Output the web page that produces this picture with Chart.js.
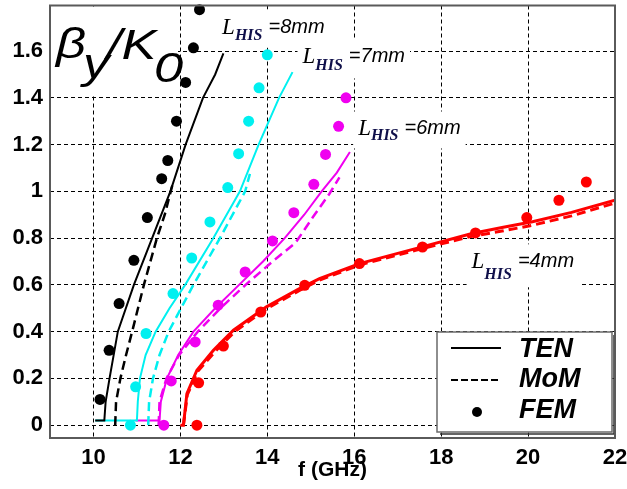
<!DOCTYPE html>
<html>
<head>
<meta charset="utf-8">
<script src="https://cdn.jsdelivr.net/npm/chart.js@4"></script>
<style>
  html, body { margin: 0; padding: 0; background: #fff; }
  canvas { display: block; }
</style>
</head>
<body>
<canvas id="dispersionChart" width="627" height="489"></canvas>
<script>
/**
 * Dispersion chart - beta_y / k0 against frequency for four L_HIS values
 */

// Axis ticks
const xTicks = [10, 12, 14, 16, 18, 20, 22];
const yTicks = [0, 0.2, 0.4, 0.6, 0.8, 1, 1.2, 1.4, 1.6];

// L_HIS = 8mm (black)
const ten8X = [10.04, 10.25, 10.28, 10.37, 10.56, 10.93, 11.35, 11.77, 12.12, 12.52, 12.8, 12.99];
const ten8Y = [0.02, 0.02, 0.1, 0.2, 0.4, 0.6, 0.8, 1.0, 1.2, 1.4, 1.5, 1.59];
const mom8X = [10.5, 10.52, 10.62, 10.75, 10.89, 11.16, 11.46, 11.64, 11.82];
const mom8Y = [0.0, 0.1, 0.2, 0.3, 0.4, 0.6, 0.8, 0.9, 1.03];
const fem8X = [10.15, 10.36, 10.59, 10.93, 11.24, 11.57, 11.71, 11.91, 12.12, 12.3, 12.44];
const fem8Y = [0.11, 0.32, 0.52, 0.705, 0.888, 1.054, 1.132, 1.3, 1.466, 1.614, 1.777];

// L_HIS = 7mm (cyan)
const ten7X = [10.04, 11.0, 11.02, 11.07, 11.2, 11.43, 11.75, 12.11, 12.76, 13.37, 13.8, 14.27, 14.58];
const ten7Y = [0.02, 0.02, 0.1, 0.2, 0.3, 0.4, 0.5, 0.6, 0.8, 1.0, 1.2, 1.4, 1.51];
const mom7X = [11.26, 11.28, 11.37, 11.52, 11.73, 12.3, 12.91, 13.49, 13.6];
const mom7Y = [0.0, 0.1, 0.2, 0.3, 0.4, 0.6, 0.8, 1.0, 1.075];
const fem7X = [10.85, 10.97, 11.21, 11.83, 12.26, 12.68, 13.09, 13.34, 13.57, 13.81, 14.0];
const fem7Y = [0.0, 0.164, 0.392, 0.563, 0.715, 0.869, 1.016, 1.161, 1.3, 1.443, 1.584];

// L_HIS = 6mm (magenta)
const ten6X = [10.97, 11.52, 11.55, 11.69, 11.95, 12.3, 12.8, 13.35, 13.9, 14.4, 14.85, 15.25, 15.6, 15.9];
const ten6Y = [0.02, 0.02, 0.1, 0.2, 0.3, 0.4, 0.5, 0.6, 0.7, 0.8, 0.9, 1.0, 1.08, 1.168];
const mom6X = [11.5, 11.52, 11.68, 11.97, 12.4, 12.92, 13.5, 14.12, 14.65, 15.05, 15.43, 15.66];
const mom6Y = [0.0, 0.1, 0.2, 0.3, 0.4, 0.5, 0.6, 0.7, 0.78, 0.89, 0.99, 1.06];
const fem6X = [11.62, 11.79, 12.34, 12.87, 13.49, 14.12, 14.61, 15.07, 15.34, 15.64, 15.81];
const fem6Y = [0.0, 0.189, 0.356, 0.513, 0.655, 0.788, 0.909, 1.03, 1.158, 1.278, 1.4];

// L_HIS = 4mm (red)
const ten4X = [12.0, 12.07, 12.15, 12.38, 12.76, 13.22, 13.98, 14.74, 15.2, 16.12, 17.41, 18.71, 19.4, 20.1, 21.0, 22.0];
const ten4Y = [0.0, 0.0, 0.135, 0.235, 0.32, 0.406, 0.506, 0.584, 0.627, 0.691, 0.755, 0.82, 0.845, 0.87, 0.91, 0.962];
const mom4X = [12.07, 12.16, 12.4, 12.8, 13.25, 14.0, 14.76, 15.2, 16.12, 17.41, 18.71, 19.4, 20.1, 21.0, 22.0];
const mom4Y = [0.0, 0.13, 0.23, 0.315, 0.4, 0.5, 0.578, 0.62, 0.685, 0.748, 0.808, 0.83, 0.855, 0.895, 0.95];
const fem4X = [12.38, 12.42, 12.99, 13.85, 14.86, 16.12, 17.57, 18.79, 19.97, 20.71, 21.34];
const fem4Y = [0.0, 0.181, 0.338, 0.484, 0.598, 0.691, 0.762, 0.822, 0.888, 0.962, 1.04];

// Curve labels (anchored at the "L" baseline, in data units)
const curveLabels = [
  { rest: '=8mm', x: 12.96, y: 1.675, drop: 6 },
  { rest: '=7mm', x: 14.81, y: 1.547, drop: 7 },
  { rest: '=6mm', x: 16.09, y: 1.239, drop: 5 },
  { rest: '=4mm', x: 18.7, y: 0.671, drop: 11 },
];

const COLORS = { black: '#000000', cyan: '#00f0f0', magenta: '#f000f0', red: '#ff0000' };

/**
 * Zip two value arrays into chart points
 */
function toPoints(xs, ys) {
  return xs.map((x, i) => ({ x: x, y: ys[i] }));
}

/**
 * Line dataset (TEN solid, MoM dashed)
 */
function curve(label, xs, ys, color, dashed, width) {
  return {
    label: label,
    data: toPoints(xs, ys),
    showLine: true,
    borderColor: color,
    borderWidth: width,
    borderDash: dashed ? [9, 5] : [],
    pointRadius: 0,
    fill: false,
    tension: 0,
  };
}

/**
 * Point dataset (FEM)
 */
function dots(label, xs, ys, color) {
  return {
    label: label,
    data: toPoints(xs, ys),
    showLine: false,
    backgroundColor: color,
    borderWidth: 0,
    pointRadius: 5.5,
    clip: false,
  };
}

// White boxes + text for the curve labels and the y quantity
const annotationPlugin = {
  id: 'annotations',
  beforeDatasetsDraw(chart) {
    const { ctx, chartArea, scales } = chart;
    ctx.save();

    // big quantity label in the top left corner (stretched like the original)
    ctx.fillStyle = '#fff';
    ctx.fillRect(chartArea.left + 1, chartArea.top + 1, 127, 88);
    ctx.fillStyle = '#000';
    ctx.textBaseline = 'alphabetic';
    ctx.font = 'italic 42px "Liberation Sans"';
    const x0 = chartArea.left;
    const y0 = chartArea.top;
    const part = (txt, dx, dy) => {
      ctx.save();
      ctx.translate(x0 + dx, y0 + dy);
      ctx.scale(1.25, 1);
      ctx.fillText(txt, 0, 0);
      ctx.restore();
    };
    part('\u03B2', 6, 52);
    part('y', 33, 72);
    part('/K', 57, 53);
    part('0', 104, 76);

    curveLabels.forEach((lab) => {
      const px = scales.x.getPixelForValue(lab.x);
      const py = scales.y.getPixelForValue(lab.y);
      ctx.font = 'italic 23px "Liberation Serif"';
      const wL = ctx.measureText('L').width;
      ctx.font = 'bold italic 16px "Liberation Serif"';
      const wH = ctx.measureText('HIS').width;
      ctx.font = 'italic 20px "Liberation Sans"';
      const wR = ctx.measureText(lab.rest).width;
      const total = wL + wH + 6 + wR;

      ctx.fillStyle = '#fff';
      ctx.fillRect(px - 5, py - 24, total + 10, 32 + lab.drop);

      ctx.fillStyle = '#000';
      ctx.font = 'italic 23px "Liberation Serif"';
      ctx.fillText('L', px, py);
      ctx.fillStyle = '#10104a';
      ctx.font = 'bold italic 16px "Liberation Serif"';
      ctx.fillText('HIS', px + wL, py + lab.drop);
      ctx.fillStyle = '#000';
      ctx.font = 'italic 20px "Liberation Sans"';
      ctx.fillText(lab.rest, px + wL + wH + 6, py - 1);
    });
    ctx.restore();
  },
  afterDatasetsDraw(chart) {
    const { ctx, chartArea } = chart;
    const w = 175;
    const h = 100;
    const lx = chartArea.right - 3 - w;
    const ly = chartArea.bottom - 6 - h;
    ctx.save();
    ctx.fillStyle = '#fff';
    ctx.fillRect(lx, ly, w, h);
    ctx.strokeStyle = '#6a6a6a';
    ctx.lineWidth = 1.5;
    ctx.strokeRect(lx, ly, w, h);
    ctx.strokeStyle = '#333';
    ctx.beginPath();
    ctx.moveTo(lx + w + 2, ly + 3);
    ctx.lineTo(lx + w + 2, ly + h + 2);
    ctx.lineTo(lx + 3, ly + h + 2);
    ctx.stroke();

    // samples
    ctx.strokeStyle = '#000';
    ctx.lineWidth = 2;
    ctx.beginPath();
    ctx.moveTo(lx + 14, ly + 16);
    ctx.lineTo(lx + 64, ly + 16);
    ctx.stroke();
    ctx.setLineDash([7, 3]);
    ctx.beginPath();
    ctx.moveTo(lx + 14, ly + 48);
    ctx.lineTo(lx + 64, ly + 48);
    ctx.stroke();
    ctx.setLineDash([]);
    ctx.fillStyle = '#000';
    ctx.beginPath();
    ctx.arc(lx + 40, ly + 80, 5, 0, Math.PI * 2);
    ctx.fill();

    ctx.font = 'bold italic 27px "Liberation Sans"';
    ctx.textBaseline = 'middle';
    ctx.fillText('TEN', lx + 82, ly + 18);
    ctx.fillText('MoM', lx + 82, ly + 48);
    ctx.fillText('FEM', lx + 82, ly + 79);
    ctx.restore();
  },
  afterDraw(chart) {
    const { ctx, chartArea } = chart;
    ctx.save();
    ctx.strokeStyle = '#5a5a5a';
    ctx.lineWidth = 2;
    ctx.strokeRect(chartArea.left, chartArea.top, chartArea.right - chartArea.left, chartArea.bottom - chartArea.top);
    ctx.restore();
  },
};

/**
 * Build the chart
 */
function initChart() {
  const ctx = document.getElementById('dispersionChart').getContext('2d');
  const tickFont = { family: '"Liberation Sans"', size: 22, weight: 'bold' };

  new Chart(ctx, {
    type: 'scatter',
    data: {
      datasets: [
        curve('TEN 8mm', ten8X, ten8Y, COLORS.black, false, 2),
        curve('MoM 8mm', mom8X, mom8Y, COLORS.black, true, 2.5),
        dots('FEM 8mm', fem8X, fem8Y, COLORS.black),
        curve('TEN 7mm', ten7X, ten7Y, COLORS.cyan, false, 2),
        curve('MoM 7mm', mom7X, mom7Y, COLORS.cyan, true, 2.5),
        dots('FEM 7mm', fem7X, fem7Y, COLORS.cyan),
        curve('TEN 6mm', ten6X, ten6Y, COLORS.magenta, false, 2),
        curve('MoM 6mm', mom6X, mom6Y, COLORS.magenta, true, 2.5),
        dots('FEM 6mm', fem6X, fem6Y, COLORS.magenta),
        curve('TEN 4mm', ten4X, ten4Y, COLORS.red, false, 3),
        curve('MoM 4mm', mom4X, mom4Y, COLORS.red, true, 3),
        dots('FEM 4mm', fem4X, fem4Y, COLORS.red),
      ],
    },
    options: {
      responsive: false,
      animation: false,
      devicePixelRatio: 1,
      layout: { padding: { left: 0, top: 5, right: 12, bottom: 0 } },
      plugins: {
        legend: { display: false },
        tooltip: { enabled: false },
      },
      scales: {
        x: {
          type: 'linear',
          min: 9,
          max: 22,
          afterBuildTicks: (axis) => {
            axis.ticks = xTicks.map((v) => ({ value: v }));
          },
          afterFit: (scale) => {
            scale.height = 51;
            scale.paddingLeft = 0;
            scale.paddingRight = 0;
          },
          grid: { color: '#000', lineWidth: 1, drawTicks: false },
          border: { display: false, dash: [4, 3] },
          ticks: { color: '#000', font: tickFont, padding: 7, maxRotation: 0 },
          title: {
            display: true,
            text: 'f (GHz)',
            color: '#000',
            font: { family: '"Liberation Sans"', size: 21, weight: 'bold' },
            padding: { top: 0, bottom: 6 },
          },
        },
        y: {
          type: 'linear',
          min: -0.055,
          max: 1.795,
          afterBuildTicks: (axis) => {
            axis.ticks = yTicks.map((v) => ({ value: v }));
          },
          afterFit: (scale) => {
            scale.width = 50;
            scale.paddingTop = 0;
            scale.paddingBottom = 0;
          },
          grid: { color: '#000', lineWidth: 1, drawTicks: false },
          border: { display: false, dash: [4, 3] },
          ticks: {
            color: '#000',
            font: tickFont,
            padding: 7,
            callback: (v) => String(Math.round(v * 10) / 10),
          },
        },
      },
    },
    plugins: [annotationPlugin],
  });
}

initChart();
</script>
</body>
</html>
